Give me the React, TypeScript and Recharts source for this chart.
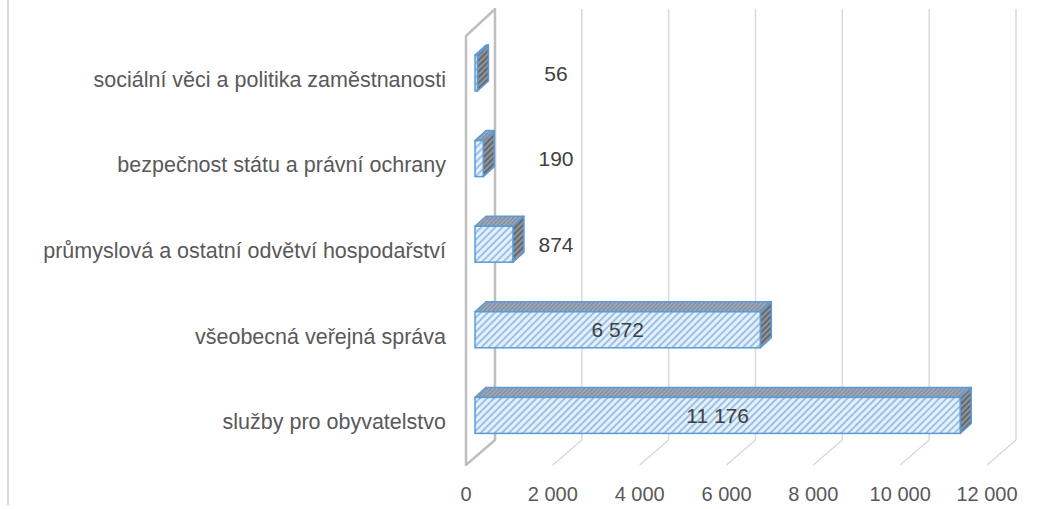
import { BarChart, Bar, XAxis, YAxis, CartesianGrid, LabelList } from 'recharts';

const CATEGORIES = [
  'sociální věci a politika zaměstnanosti',
  'bezpečnost státu a právní ochrany',
  'průmyslová a ostatní odvětví hospodařství',
  'všeobecná veřejná správa',
  'služby pro obyvatelstvo',
];
const VALUES = [56, 190, 874, 6572, 11176];
const X_TICKS = [0, 2000, 4000, 6000, 8000, 10000, 12000];

const rows = CATEGORIES.map((name, i) => ({ name, value: VALUES[i] }));

const FONT = '"Liberation Sans", Arial, sans-serif';
const TEXT = '#595959';
// offsets of the back wall / front plane relative to the plane where bars sit
const BACK_DX = 20;
const BACK_DY_TOP = -21;
const BACK_DY_BOTTOM = -18;
const FRONT_DX = -9;
const FRONT_DY_TOP = 6;
const FRONT_DY_BOTTOM = 7;
// bar depth
const DEPTH_X = 11;
const DEPTH_Y = -10;

const fmt = (v: number) => String(v).replace(/\B(?=(\d{3})+(?!\d))/g, ' ');

const gridLine = (p: any) => {
  const { x1, y1, y2, index, key } = p;
  const bx = x1 + BACK_DX;
  const fx = x1 + FRONT_DX;
  if (index === 0) {
    return (
      <polygon
        key={key}
        points={`${fx},${y1 + FRONT_DY_TOP} ${bx},${y1 + BACK_DY_TOP} ${bx},${y2 + BACK_DY_BOTTOM} ${fx},${y2 + FRONT_DY_BOTTOM}`}
        fill="#fff"
        stroke="#bfbfbf"
        strokeWidth={2.5}
        strokeLinejoin="round"
      />
    );
  }
  return (
    <g key={key}>
      <line x1={bx} y1={y1 + BACK_DY_TOP} x2={bx} y2={y2 + BACK_DY_BOTTOM} stroke="#d9d9d9" strokeWidth={1.5} />
      <line x1={bx} y1={y2 + BACK_DY_BOTTOM} x2={fx} y2={y2 + FRONT_DY_BOTTOM} stroke="#d9d9d9" strokeWidth={1.5} />
    </g>
  );
};

const Box3D = (props: any) => {
  const { x, y, width, height } = props;
  const w = Math.max(width, 0);
  const stroke = '#5b9bd5';
  return (
    <g>
      <polygon
        points={`${x},${y} ${x + DEPTH_X},${y + DEPTH_Y} ${x + w + DEPTH_X},${y + DEPTH_Y} ${x + w},${y}`}
        fill="url(#topHatch)"
        stroke={stroke}
        strokeWidth={1.5}
        strokeLinejoin="round"
      />
      <polygon
        points={`${x + w},${y} ${x + w + DEPTH_X},${y + DEPTH_Y} ${x + w + DEPTH_X},${y + height + DEPTH_Y} ${x + w},${y + height}`}
        fill="url(#sideHatch)"
        stroke={stroke}
        strokeWidth={1.5}
        strokeLinejoin="round"
      />
      <rect x={x} y={y} width={w} height={height} fill="url(#frontHatch)" stroke={stroke} strokeWidth={1.5} />
    </g>
  );
};

const BarLabel = (props: any) => {
  const { x, y, width, height, value } = props;
  const cx = x + Math.max(width / 2, 81);
  return (
    <text x={cx} y={y + height / 2} textAnchor="middle" dominantBaseline="central" fill="#404040" fontSize={21} fontFamily={FONT}>
      {fmt(value)}
    </text>
  );
};

const XTick = (props: any) => {
  const { x, payload } = props;
  return (
    <text x={x + FRONT_DX} y={494} textAnchor="middle" dominantBaseline="central" fill={TEXT} fontSize={20} fontFamily={FONT}>
      {fmt(payload.value)}
    </text>
  );
};

const YTick = (props: any) => {
  const { y, payload } = props;
  return (
    <text x={446} y={y + 7} textAnchor="end" dominantBaseline="central" fill={TEXT} fontSize={21.5} fontFamily={FONT}>
      {payload.value}
    </text>
  );
};

export default function App() {
  return (
    <div style={{ position: 'absolute', left: 0, top: 0, width: 1064, height: 509, background: '#fff' }}>
      <div style={{ position: 'absolute', left: 7, top: 0, width: 2, height: 505, background: '#d9d9d9' }} />
      <BarChart
        layout="vertical"
        width={1064}
        height={509}
        data={rows}
        margin={{ top: 30, right: 68, bottom: 0, left: 0 }}
        barSize={36}
      >
        <defs>
          <pattern id="frontHatch" width="5" height="5" patternUnits="userSpaceOnUse" patternTransform="rotate(45)">
            <rect width="5" height="5" fill="#e6f0fa" />
            <line x1="1" y1="0" x2="1" y2="5" stroke="#7aaee0" strokeWidth="1.4" />
          </pattern>
          <pattern id="topHatch" width="3" height="3" patternUnits="userSpaceOnUse" patternTransform="rotate(45)">
            <rect width="3" height="3" fill="#a3aebd" />
            <line x1="1" y1="0" x2="1" y2="3" stroke="#76849a" strokeWidth="1.2" />
          </pattern>
          <pattern id="sideHatch" width="4" height="4" patternUnits="userSpaceOnUse" patternTransform="rotate(45)">
            <rect width="4" height="4" fill="#8f949b" />
            <line x1="1" y1="0" x2="1" y2="4" stroke="#555b62" strokeWidth="1.5" />
          </pattern>
        </defs>
        <CartesianGrid horizontal={false} vertical={gridLine} fill="none" />
        <XAxis
          type="number"
          domain={[0, 12000]}
          ticks={X_TICKS}
          axisLine={false}
          tickLine={false}
          height={51}
          tick={<XTick />}
        />
        <YAxis type="category" dataKey="name" width={475} axisLine={false} tickLine={false} tick={<YTick />} />
        <Bar dataKey="value" shape={<Box3D />} isAnimationActive={false}>
          <LabelList dataKey="value" content={<BarLabel />} />
        </Bar>
      </BarChart>
    </div>
  );
}
